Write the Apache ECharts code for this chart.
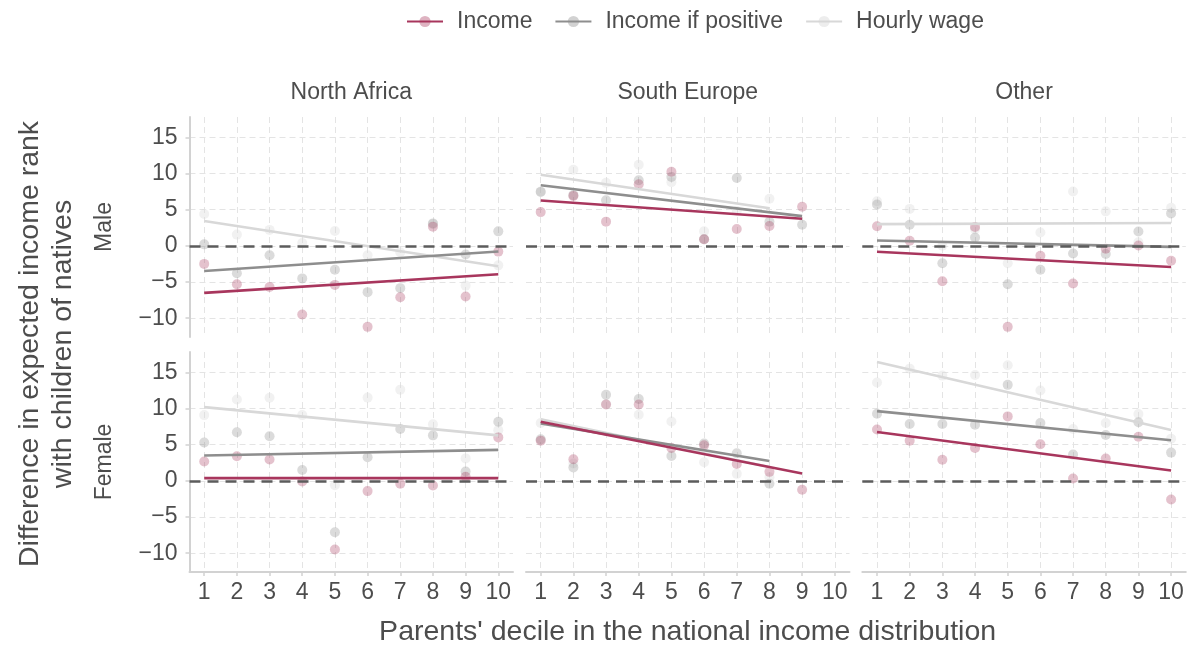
<!DOCTYPE html>
<html>
<head>
<meta charset="utf-8">
<script src="https://cdn.jsdelivr.net/npm/echarts@6/dist/echarts.min.js"></script>
<style>
  html, body { margin: 0; padding: 0; background: #ffffff; }
  #chart { width: 1193px; height: 645px; }
</style>
</head>
<body>
<div id="chart"></div>
<script>
// Categories and labels
const deciles = [1, 2, 3, 4, 5, 6, 7, 8, 9, 10];
const regions = ['North Africa', 'South Europe', 'Other'];
const sexes = ['Male', 'Female'];
const measures = ['Income', 'Income if positive', 'Hourly wage'];
const yTickValues = [-10, -5, 0, 5, 10, 15];
const xTickValues = [1, 2, 3, 4, 5, 6, 7, 8, 9, 10];

// Point estimates by parents' decile (difference in rank with children of natives)
// Male
const naMaleIncome = [-2.5, -5.3, -5.7, -9.5, -5.4, -11.2, -7.1, 2.65, -7.0, -0.8];
const naMaleIfPos  = [0.2, -3.8, -1.3, -4.5, -3.3, -6.4, -5.85, 3.1, -1.2, 2.0];
const naMaleWage   = [4.4, 1.55, 2.2, 0.4, 2.05, -1.3, -0.9, 3.0, -5.5, -2.7];

const seMaleIncome = [4.66, 6.9, 3.34, 8.5, 10.24, 0.9, 2.33, 2.74, 5.4];
const seMaleIfPos  = [7.45, 7.0, 6.3, 9.05, 9.5, 0.9, 9.37, 3.34, 2.9];
const seMaleWage   = [7.5, 10.5, 8.7, 11.2, 8.8, 2.0, 4.8, 6.5];

const otMaleIncome = [2.7, 0.7, -4.9, 2.6, -11.2, -1.37, -5.2, -0.4, 0.05, -2.06];
const otMaleIfPos  = [5.7, 2.9, -2.4, 1.14, -5.3, -3.3, -1.05, -1.14, 1.97, 4.48];
const otMaleWage   = [6.17, 5.1, 0.0, 2.3, -2.4, 1.83, 7.5, 4.76, 0.5, 5.26];

// Female
const naFemaleIncome = [2.66, 3.4, 2.94, -0.1, -9.5, -1.42, -0.4, -0.64, 0.55, 6.0];
const naFemaleIfPos  = [5.3, 6.7, 6.15, 1.5, -7.1, 3.26, 7.16, 6.28, 1.28, 8.17];
const naFemaleWage   = [9.08, 11.24, 11.47, 9.08, -0.6, 11.5, 12.6, 7.8, 3.1, 7.0];

const seFemaleIncome = [5.55, 2.98, 10.55, 10.55, 4.54, 4.9, 2.34, 1.24, -1.24];
const seFemaleIfPos  = [5.73, 1.83, 11.9, 11.3, 3.44, 5.14, 3.8, -0.4];
const seFemaleWage   = [8.0, 2.4, 10.6, 9.13, 8.2, 2.57, 0.96, 0.5];

const otFemaleIncome = [7.1, 5.55, 2.9, 4.54, 8.9, 5.05, 0.32, 3.07, 6.1, -2.57];
const otFemaleIfPos  = [9.27, 7.84, 7.84, 7.75, 13.26, 7.98, 3.62, 6.33, 8.1, 3.9];
const otFemaleWage   = [13.58, 15.5, 14.54, 14.63, 15.96, 12.48, 7.16, 7.98, 9.22, 5.83];

// Linear fits: [value at first decile, value at last decile], ordered as measures
const naMaleFit   = [[-6.5, -3.93], [-3.48, -0.78], [3.43, -2.83]];
const seMaleFit   = [[6.26, 3.75], [8.37, 4.1], [9.83, 5.2]];
const otMaleFit   = [[-0.82, -2.93], [0.73, -0.14], [3.0, 3.15]];
const naFemaleFit = [[0.37, 0.37], [3.49, 4.27], [10.18, 6.28]];
const seFemaleFit = [[8.17, 1.0], [7.94, 2.75], [8.5, 1.9]];
const otFemaleFit = [[6.74, 1.42], [9.63, 5.6], [16.42, 7.02]];

// Styling
const lineColors  = ['#a8365d', '#8e8e8e', '#d8d8d8'];
const pointColors = ['rgba(168,54,93,0.38)', 'rgba(142,142,142,0.4)', 'rgba(216,216,216,0.45)'];
const textColor = '#4d4d4d';
const fontFamily = '"Liberation Sans", Arial, sans-serif';
const gridColor = '#e4e4e4';
const axisColor = '#d2d2d2';

const panelLeft = [189.5, 526, 862.3];
const panelWidth = 323.5;
const panelTop = [117, 352];
const panelHeight = 220;
const xMin = 0.55, xMax = 10.45;
const yMin = -12.6, yMax = 17.8;

const panels = [
  { row: 0, col: 0, pts: [naMaleIncome, naMaleIfPos, naMaleWage], fit: naMaleFit },
  { row: 0, col: 1, pts: [seMaleIncome, seMaleIfPos, seMaleWage], fit: seMaleFit },
  { row: 0, col: 2, pts: [otMaleIncome, otMaleIfPos, otMaleWage], fit: otMaleFit },
  { row: 1, col: 0, pts: [naFemaleIncome, naFemaleIfPos, naFemaleWage], fit: naFemaleFit },
  { row: 1, col: 1, pts: [seFemaleIncome, seFemaleIfPos, seFemaleWage], fit: seFemaleFit },
  { row: 1, col: 2, pts: [otFemaleIncome, otFemaleIfPos, otFemaleWage], fit: otFemaleFit }
];

const minus = v => String(v).replace('-', '\u2212');

const grids = [], xAxes = [], yAxes = [], series = [];

panels.forEach((p, i) => {
  const bottomRow = p.row === 1;
  const leftCol = p.col === 0;
  grids.push({
    left: panelLeft[p.col], top: panelTop[p.row],
    width: panelWidth, height: panelHeight,
    containLabel: false
  });
  xAxes.push({
    type: 'value', gridIndex: i, min: xMin, max: xMax,
    axisLine: { show: bottomRow, onZero: false, lineStyle: { color: axisColor, width: 2 } },
    axisTick: { show: bottomRow, customValues: xTickValues, length: 4, lineStyle: { color: axisColor, width: 1.5 } },
    axisLabel: {
      show: bottomRow, customValues: xTickValues, margin: 9,
      color: textColor, fontSize: 23, fontFamily: fontFamily
    },
    splitLine: { show: true, customValues: xTickValues, lineStyle: { color: gridColor, width: 1, type: [6, 4] } }
  });
  yAxes.push({
    type: 'value', gridIndex: i, min: yMin, max: yMax,
    axisLine: { show: leftCol, onZero: false, lineStyle: { color: axisColor, width: 2 } },
    axisTick: { show: leftCol, customValues: yTickValues, length: 4, lineStyle: { color: axisColor, width: 1.5 } },
    axisLabel: {
      show: leftCol, customValues: yTickValues, margin: 12,
      color: textColor, fontSize: 23, fontFamily: fontFamily,
      formatter: v => minus(v)
    },
    splitLine: { show: true, customValues: yTickValues, lineStyle: { color: gridColor, width: 1, type: [6, 4] } }
  });

  // Scatter points, lightest measure first
  [2, 1, 0].forEach(m => {
    const vals = p.pts[m];
    series.push({
      type: 'scatter', name: measures[m],
      xAxisIndex: i, yAxisIndex: i,
      data: vals.map((v, k) => [deciles[k], v]),
      symbol: 'circle', symbolSize: 10,
      itemStyle: { color: pointColors[m] },
      z: 2, silent: true
    });
  });

  // Linear fit lines, from the first to the last observed decile
  [2, 1, 0].forEach(m => {
    const n = p.pts[m].length;
    series.push({
      type: 'line', name: measures[m],
      xAxisIndex: i, yAxisIndex: i,
      data: [[deciles[0], p.fit[m][0]], [deciles[n - 1], p.fit[m][1]]],
      symbol: 'circle', symbolSize: 9, showSymbol: false,
      lineStyle: { color: lineColors[m], width: 2.6 },
      itemStyle: { color: pointColors[m] },
      z: 3, silent: true
    });
  });

  // Reference line at zero
  series.push({
    type: 'line', name: 'zero', xAxisIndex: i, yAxisIndex: i,
    data: [], silent: true, z: 4,
    markLine: {
      silent: true, symbol: 'none', label: { show: false },
      lineStyle: { color: '#5c5c5c', width: 2.5, type: [11, 7] },
      emphasis: { disabled: true },
      data: [{ yAxis: 0 }]
    }
  });
});

// Legend icons come from the line series, so register them first
series.sort((a, b) => (a.type === 'line' ? 0 : 1) - (b.type === 'line' ? 0 : 1));

const graphics = [];
regions.forEach((r, c) => {
  graphics.push({
    type: 'text', x: panelLeft[c] + panelWidth / 2, y: 93,
    style: { text: r, font: '23px ' + fontFamily, fill: textColor, textAlign: 'center', textVerticalAlign: 'middle' }
  });
});
sexes.forEach((s, r) => {
  graphics.push({
    type: 'text', x: 105, y: panelTop[r] + panelHeight / 2, rotation: Math.PI / 2,
    style: { text: s, font: '23px ' + fontFamily, fill: textColor, textAlign: 'center', textVerticalAlign: 'middle' }
  });
});
graphics.push({
  type: 'text', x: 30, y: 344, rotation: Math.PI / 2,
  style: { text: 'Difference in expected income rank', font: '28.5px ' + fontFamily, fill: textColor, textAlign: 'center', textVerticalAlign: 'middle' }
});
graphics.push({
  type: 'text', x: 63, y: 344, rotation: Math.PI / 2,
  style: { text: 'with children of natives', font: '28.5px ' + fontFamily, fill: textColor, textAlign: 'center', textVerticalAlign: 'middle' }
});
graphics.push({
  type: 'text', x: 687.6, y: 632,
  style: { text: "Parents' decile in the national income distribution", font: '28.5px ' + fontFamily, fill: textColor, textAlign: 'center', textVerticalAlign: 'middle' }
});

const chart = echarts.init(document.getElementById('chart'), null, { renderer: 'canvas' });
chart.setOption({
  animation: false,
  backgroundColor: '#ffffff',
  legend: {
    data: measures, top: 5, left: 401,
    itemWidth: 36, itemHeight: 14, itemGap: 22,
    textStyle: { color: textColor, fontSize: 23, fontFamily: fontFamily, padding: [0, 0, 0, 9] },
    selectedMode: false
  },
  grid: grids,
  xAxis: xAxes,
  yAxis: yAxes,
  series: series,
  graphic: graphics
});
</script>
</body>
</html>
